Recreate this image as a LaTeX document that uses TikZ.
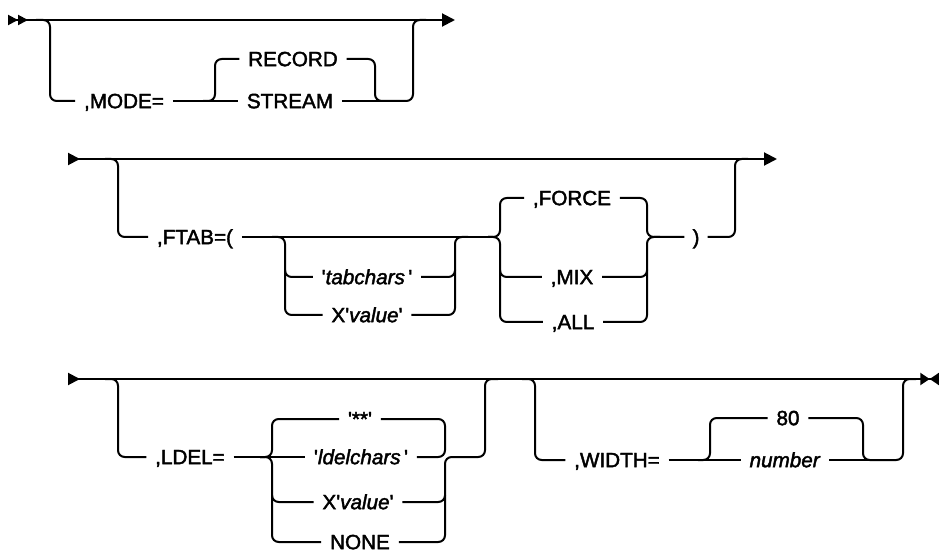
\documentclass[tikz,border=0pt]{standalone}
\usepackage{fontspec}
\setmainfont[FakeBold=2]{Liberation Sans}
\usetikzlibrary{arrows.meta}
\newcommand{\q}{\textquotesingle}

\begin{document}
\begin{tikzpicture}[
  x=0.75pt, y=-0.75pt,
  rail/.style={line width=1.5pt, rounded corners=5pt},
  kw/.style={inner xsep=6.5pt, inner ysep=0pt, text height=10.8pt, text depth=0pt,
    font=\fontsize{15.5}{18}\selectfont}
]
  \useasboundingbox (0,0) rectangle (939,552);

  % fila 1: MODE
  \coordinate (r1s) at (8,20);  \coordinate (r1e) at (455,20);
  \node[kw] (mode) at (124,101) {,MODE=};
  \node[kw] (rec)  at (293,59)  {RECORD};
  \node[kw] (strm) at (290,101) {STREAM};

  \draw[rail, {Triangle[reversed,length=7.5pt,width=7.5pt] Triangle[reversed,length=7.5pt,width=7.5pt]}-{Triangle[length=9.75pt,width=9.75pt]}] (r1s) -- (r1e);
  \draw[rail] (36,20) -| (50,101) -- (mode.west);
  \draw[rail] (mode.east) -- (strm.west);
  \draw[rail] (203,101) -| (215,59) -- (rec.west);
  \draw[rail] (rec.east) -| (375,101) -| (413,20) -- (426,20);
  \draw[rail] (strm.east) -- (390,101);

  % fila 2: FTAB
  \coordinate (r2s) at (68,159);  \coordinate (r2e) at (777,159);
  \node[kw] (ftab)  at (195,237) {,FTAB=(};
  \node[kw] (tabc)  at (367,277) {\q\textit{tabchars}\,\q};
  \node[kw] (xval)  at (367,315) {X\q\textit{value}\q};
  \node[kw] (force) at (572,198) {,FORCE};
  \node[kw] (mix)   at (572,277) {,MIX};
  \node[kw] (all)   at (573,322) {,ALL};
  \node[kw, inner xsep=6pt] (paren) at (696,237) {)};

  \draw[rail, {Triangle[reversed,length=9pt,width=9pt]}-{Triangle[length=9.75pt,width=9.75pt]}] (r2s) -- (r2e);
  \draw[rail] (105,159) -| (118,237) -- (ftab.west);
  \draw[rail] (ftab.east) -- (495,237);
  \draw[rail] (272,237) -| (285,277) -- (tabc.west);
  \draw[rail] (285,270) |- (xval.west);
  \draw[rail] (tabc.east) -| (455,237) -- (468,237);
  \draw[rail] (xval.east) -| (455,270);
  \draw[rail] (488,237) -| (500,198) -- (force.west);
  \draw[rail] (488,237) -| (500,277) -- (mix.west);
  \draw[rail] (500,270) |- (all.west);
  \draw[rail] (force.east) -| (647,237) -- (paren.west);
  \draw[rail] (mix.east) -| (647,237) -- (660,237);
  \draw[rail] (all.east) -| (647,270);
  \draw[rail] (paren.east) -| (735,159) -- (748,159);

  % fila 3: LDEL, WIDTH
  \coordinate (r3s) at (68,379);  \coordinate (r3e) at (939,379);
  \node[kw] (ldel)  at (190,457) {,LDEL=};
  \node[kw] (stars) at (360,419) {\q**\q};
  \node[kw] (ldc)   at (361,457) {\q\textit{ldelchars}\,\q};
  \node[kw] (xv2)   at (358,502) {X\q\textit{value}\q};
  \node[kw] (none)  at (360,542) {NONE};
  \node[kw] (width) at (617,460) {,WIDTH=};
  \node[kw] (eight) at (788,418) {80};
  \node[kw] (num)   at (785,460) {\textit{number}};

  \draw[rail, {Triangle[reversed,length=9pt,width=9pt]}-{Triangle[length=7pt,width=9pt] Triangle[reversed,length=7pt,width=9pt]}] (r3s) -- (r3e);
  \draw[rail] (105,379) -| (118,457) -- (ldel.west);
  \draw[rail] (ldel.east) -- (ldc.west);
  \draw[rail] (260,457) -| (272,419) -- (stars.west);
  \draw[rail] (260,457) -| (272,502) -- (xv2.west);
  \draw[rail] (272,495) |- (none.west);
  \draw[rail] (stars.east) -| (445,457) -- (ldc.east);
  \draw[rail] (xv2.east) -| (445,457) -| (485,379) -- (498,379);
  \draw[rail] (none.east) -| (445,495);
  \draw[rail] (522,379) -| (535,460) -- (width.west);
  \draw[rail] (width.east) -- (num.west);
  \draw[rail] (698,460) -| (710,418) -- (eight.west);
  \draw[rail] (eight.east) -| (863,460) -| (903,379) -- (916,379);
  \draw[rail] (num.east) -- (875,460);
\end{tikzpicture}
\end{document}
